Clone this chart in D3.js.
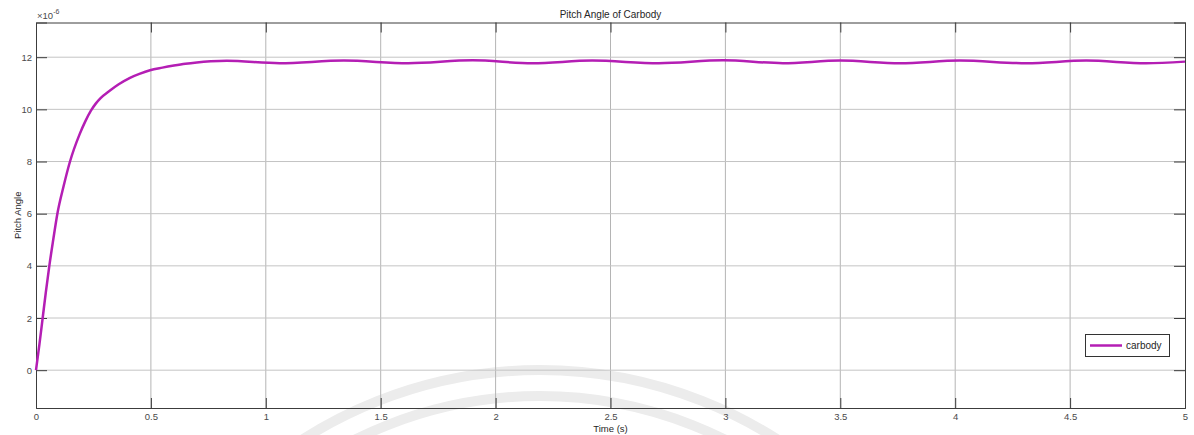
<!DOCTYPE html>
<html lang="en">
<head>
<meta charset="UTF-8">
<script src="https://d3js.org/d3.v7.min.js"></script>
<title>Pitch Angle of Carbody</title>
<style>
  body { margin: 0; background: #fff; }
  text { font-family: "Liberation Sans", Arial, sans-serif; }
</style>
</head>
<body>
<div id="chart"></div>
<script>
// values (pitch angle in units of 1e-6)
var timeS = [0, 0.015, 0.029, 0.043, 0.058, 0.075, 0.093, 0.12, 0.148, 0.19, 0.215, 0.239,
             0.26, 0.28, 0.322, 0.36, 0.409, 0.45, 0.496, 0.55, 0.6, 0.65, 0.7, 0.76, 0.83,
             1.06, 1.34, 1.62, 1.9, 2.16, 2.42, 2.71, 2.99, 3.25, 3.5, 3.76, 4.02,
             4.31, 4.57, 4.83, 5.0];
var pitch = [0, 1.0, 2.0, 3.0, 4.0, 5.0, 6.0, 7.05, 8.0, 9.05, 9.55, 9.95,
             10.22, 10.42, 10.72, 10.96, 11.21, 11.36, 11.5, 11.6, 11.68, 11.75, 11.8, 11.84, 11.86,
             11.77, 11.87, 11.77, 11.88, 11.77, 11.87, 11.77, 11.88, 11.77, 11.87, 11.77, 11.87,
             11.77, 11.87, 11.77, 11.83];
var xTicks = [0, 0.5, 1, 1.5, 2, 2.5, 3, 3.5, 4, 4.5, 5];
var yTicks = [0, 2, 4, 6, 8, 10, 12];
var seriesName = "carbody";

var W = 1194, H = 435;
var L = 36, R = 1185, T = 22.5, B = 408;

var svg = d3.select("#chart").append("svg")
    .attr("width", W).attr("height", H);

var x = d3.scaleLinear().domain([0, 5]).range([L, R]);
var y = d3.scaleLinear().domain([-1.45, 13.33]).range([B, T]);

// faint watermark arcs
[440, 414].forEach(function (r) {
    svg.append("circle")
        .attr("cx", 540).attr("cy", 810).attr("r", r)
        .attr("fill", "none").attr("stroke", "#ececec").attr("stroke-width", 10);
});

// grid
svg.append("g").selectAll("line").data(xTicks.slice(1, -1)).enter().append("line")
    .attr("x1", function (d) { return x(d); }).attr("x2", function (d) { return x(d); })
    .attr("y1", T).attr("y2", B)
    .attr("stroke", "#b4b4b4").attr("stroke-width", 1);
svg.append("g").selectAll("line").data(yTicks).enter().append("line")
    .attr("x1", L).attr("x2", R)
    .attr("y1", function (d) { return y(d); }).attr("y2", function (d) { return y(d); })
    .attr("stroke", "#c4c4c4").attr("stroke-width", 1);

// axes (ticks pointing inward, mirrored on top/right)
var fmt = d3.format("~g");
var xAx = svg.append("g").attr("transform", "translate(0," + B + ")")
    .call(d3.axisBottom(x).tickValues(xTicks).tickSize(-10).tickPadding(5).tickFormat(fmt));
var xTop = svg.append("g").attr("transform", "translate(0," + T + ")")
    .call(d3.axisTop(x).tickValues(xTicks).tickSize(-10).tickFormat(""));
var yAx = svg.append("g").attr("transform", "translate(" + L + ",0)")
    .call(d3.axisLeft(y).tickValues(yTicks).tickSize(-11).tickPadding(4).tickFormat(fmt));
var yRight = svg.append("g").attr("transform", "translate(" + R + ",0)")
    .call(d3.axisRight(y).tickValues(yTicks).tickSize(-11).tickFormat(""));

[xAx, xTop, yAx, yRight].forEach(function (g) {
    g.select(".domain").attr("stroke", "#3c3c3c").attr("stroke-width", 1);
    g.selectAll(".tick line").attr("stroke", "#3c3c3c");
    g.selectAll("text").attr("fill", "#4a4a4a").style("font-size", "9.5px");
});

// exponent label
var ex = svg.append("text").attr("x", 37).attr("y", 19)
    .attr("fill", "#4a4a4a").style("font-size", "9.5px");
ex.append("tspan").text("\u00d710");
ex.append("tspan").attr("dy", -5).style("font-size", "7px").text("-6");

// line
var pts = timeS.map(function (t, i) { return [t, pitch[i]]; });
svg.append("path").datum(pts)
    .attr("fill", "none")
    .attr("stroke", "#b41eb4")
    .attr("stroke-width", 2.5)
    .attr("stroke-linejoin", "round")
    .attr("d", d3.line()
        .x(function (d) { return x(d[0]); })
        .y(function (d) { return y(d[1]); })
        .curve(d3.curveMonotoneX));

// titles
svg.append("text").attr("x", (L + R) / 2).attr("y", 18)
    .attr("text-anchor", "middle").attr("fill", "#262626")
    .style("font-size", "10px").text("Pitch Angle of Carbody");
svg.append("text").attr("x", (L + R) / 2).attr("y", 432)
    .attr("text-anchor", "middle").attr("fill", "#262626")
    .style("font-size", "9.5px").text("Time (s)");
svg.append("text")
    .attr("transform", "translate(21," + (T + B) / 2 + ") rotate(-90)")
    .attr("text-anchor", "middle").attr("fill", "#262626")
    .style("font-size", "9.5px").text("Pitch Angle");

// legend
var lg = svg.append("g");
lg.append("rect").attr("x", 1085.5).attr("y", 334.5).attr("width", 84).attr("height", 22)
    .attr("fill", "#fff").attr("stroke", "#333").attr("stroke-width", 1);
lg.append("line").attr("x1", 1090).attr("x2", 1122).attr("y1", 345.5).attr("y2", 345.5)
    .attr("stroke", "#b41eb4").attr("stroke-width", 2.5);
lg.append("text").attr("x", 1126).attr("y", 349).attr("fill", "#262626")
    .style("font-size", "10px").text(seriesName);
</script>
</body>
</html>
